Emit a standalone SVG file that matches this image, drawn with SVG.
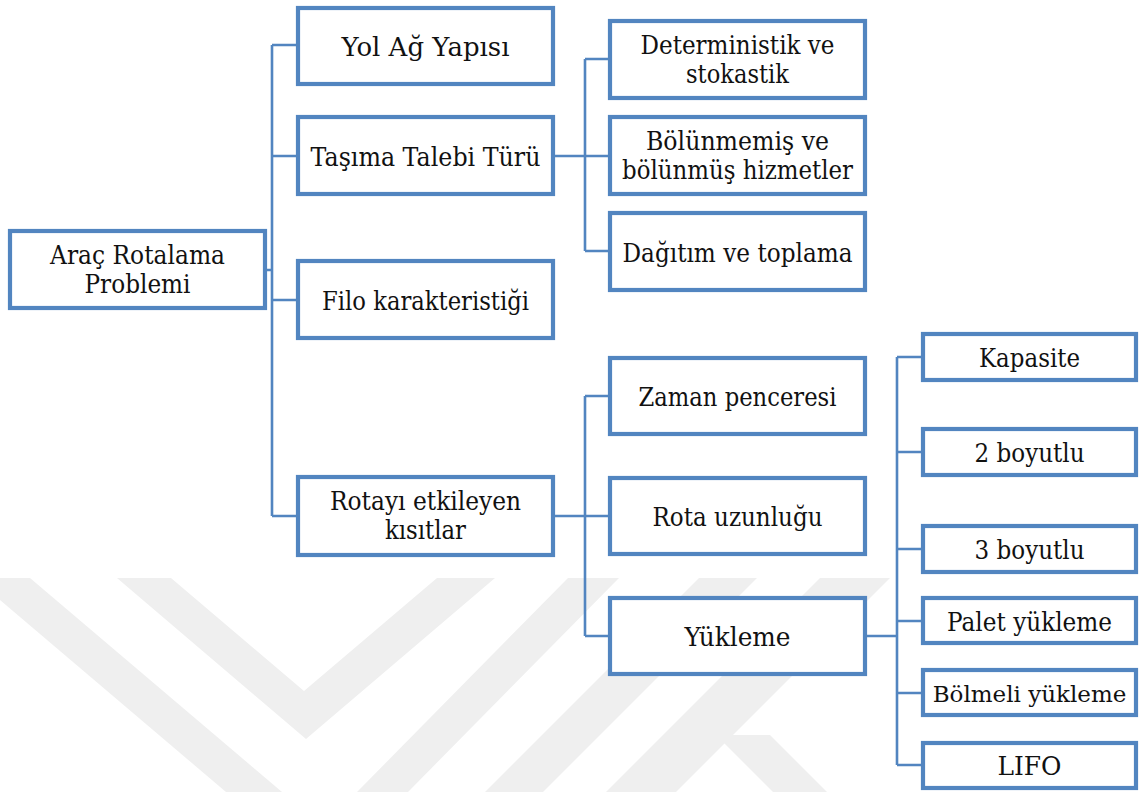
<svg xmlns="http://www.w3.org/2000/svg" width="1142" height="792" viewBox="0 0 1142 792">
  <style>
    .box { fill: #ffffff; stroke: #5285c0; stroke-width: 4.2; }
    .wire { fill: none; stroke: #5285c0; stroke-width: 2.6; }
    .mark { fill: #efefef; }
    .lbl text { font-family: "DejaVu Serif", "Liberation Serif", serif; font-size: 26px; fill: #111111; text-anchor: middle; }
  </style>
  <rect width="1142" height="792" fill="#ffffff"/>

  <!-- faint background emblem -->
  <g id="emblem">
    <polygon class="mark" points="0,578 30,578 282,792 226,792 0,600"/>
    <polygon class="mark" points="117,578 171,578 304,691 437,578 495,578 306,739"/>
    <polygon class="mark" points="568,578 619,578 408,792 357,792"/>
    <polygon class="mark" points="699,578 757,578 543,792 485,792"/>
    <polygon class="mark" points="820,578 890,578 676,792 606,792"/>
    <polygon class="mark" points="716,735 770,735 827,792 773,792"/>
  </g>

  <!-- connectors -->
  <g id="connectors">
    <path class="wire" d="M267,270 H272 M272,45 V516 M272,45 H296 M272,156 H296 M272,300 H296 M272,516 H296"/>
    <path class="wire" d="M555,156 H585 M585,59 V251 M585,59 H608 M585,156 H608 M585,251 H608"/>
    <path class="wire" d="M555,516 H585 M585,396 V636 M585,396 H608 M585,516 H608 M585,636 H608"/>
    <path class="wire" d="M867,636 H897 M897,357 V765 M897,357 H921 M897,452 H921 M897,549 H921 M897,621 H921 M897,693 H921 M897,765 H921"/>
  </g>

  <g class="lbl">
    <!-- root -->
    <g id="n-root">
      <rect class="box" x="10" y="231" width="255" height="77"/>
      <text x="137.5" y="263.5" textLength="175" lengthAdjust="spacingAndGlyphs">Araç Rotalama</text>
      <text x="137.5" y="292.5" textLength="106" lengthAdjust="spacingAndGlyphs">Problemi</text>
    </g>

    <!-- first level -->
    <g id="n-yol">
      <rect class="box" x="298" y="8" width="255" height="76"/>
      <text x="425.5" y="55.5" textLength="168" lengthAdjust="spacingAndGlyphs">Yol Ağ Yapısı</text>
    </g>
    <g id="n-talep">
      <rect class="box" x="298" y="117" width="255" height="77"/>
      <text x="425.5" y="165.5" textLength="230" lengthAdjust="spacingAndGlyphs">Taşıma Talebi Türü</text>
    </g>
    <g id="n-filo">
      <rect class="box" x="298" y="261" width="255" height="77"/>
      <text x="425.5" y="309.5" textLength="207" lengthAdjust="spacingAndGlyphs">Filo karakteristiği</text>
    </g>
    <g id="n-kisit">
      <rect class="box" x="298" y="477" width="255" height="78"/>
      <text x="425.5" y="510" textLength="191" lengthAdjust="spacingAndGlyphs">Rotayı etkileyen</text>
      <text x="425.5" y="539" textLength="81" lengthAdjust="spacingAndGlyphs">kısıtlar</text>
    </g>

    <!-- demand types -->
    <g id="n-det">
      <rect class="box" x="610" y="21" width="255" height="77"/>
      <text x="737.5" y="53.5" textLength="194" lengthAdjust="spacingAndGlyphs">Deterministik ve</text>
      <text x="737.5" y="83" textLength="103" lengthAdjust="spacingAndGlyphs">stokastik</text>
    </g>
    <g id="n-bol">
      <rect class="box" x="610" y="117" width="255" height="77"/>
      <text x="737.5" y="149.5" textLength="183" lengthAdjust="spacingAndGlyphs">Bölünmemiş ve</text>
      <text x="737.5" y="179" textLength="231" lengthAdjust="spacingAndGlyphs">bölünmüş hizmetler</text>
    </g>
    <g id="n-dag">
      <rect class="box" x="610" y="213" width="255" height="77"/>
      <text x="737.5" y="261.5" textLength="230" lengthAdjust="spacingAndGlyphs">Dağıtım ve toplama</text>
    </g>

    <!-- route constraints -->
    <g id="n-zaman">
      <rect class="box" x="610" y="358" width="255" height="76"/>
      <text x="737.5" y="406" textLength="198" lengthAdjust="spacingAndGlyphs">Zaman penceresi</text>
    </g>
    <g id="n-uzun">
      <rect class="box" x="610" y="478" width="255" height="76"/>
      <text x="737.5" y="526" textLength="170" lengthAdjust="spacingAndGlyphs">Rota uzunluğu</text>
    </g>
    <g id="n-yuk">
      <rect class="box" x="610" y="598" width="255" height="76"/>
      <text x="737.5" y="646" textLength="106" lengthAdjust="spacingAndGlyphs">Yükleme</text>
    </g>

    <!-- loading types -->
    <g id="n-kap">
      <rect class="box" x="923" y="334" width="213" height="46"/>
      <text x="1029.5" y="367" textLength="101" lengthAdjust="spacingAndGlyphs">Kapasite</text>
    </g>
    <g id="n-2b">
      <rect class="box" x="923" y="429" width="213" height="46"/>
      <text x="1029.5" y="462" textLength="110" lengthAdjust="spacingAndGlyphs">2 boyutlu</text>
    </g>
    <g id="n-3b">
      <rect class="box" x="923" y="526" width="213" height="46"/>
      <text x="1029.5" y="559" textLength="110" lengthAdjust="spacingAndGlyphs">3 boyutlu</text>
    </g>
    <g id="n-palet">
      <rect class="box" x="923" y="598" width="213" height="45"/>
      <text x="1029.5" y="630.5" textLength="165" lengthAdjust="spacingAndGlyphs">Palet yükleme</text>
    </g>
    <g id="n-bolme">
      <rect class="box" x="923" y="670" width="213" height="45"/>
      <text x="1029.5" y="701.5" style="font-size:23px">Bölmeli yükleme</text>
    </g>
    <g id="n-lifo">
      <rect class="box" x="923" y="743" width="213" height="45"/>
      <text x="1029.5" y="774.5" textLength="64" lengthAdjust="spacingAndGlyphs">LIFO</text>
    </g>
  </g>
</svg>
